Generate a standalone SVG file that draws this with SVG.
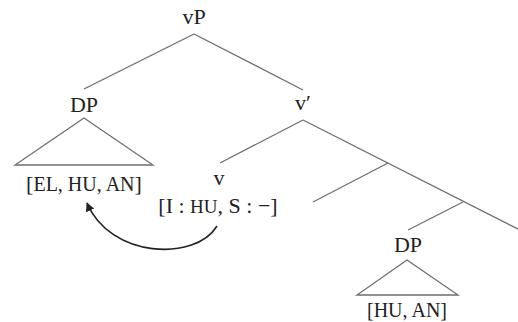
<svg xmlns="http://www.w3.org/2000/svg" width="518" height="322" viewBox="0 0 518 322">
<defs>
<style>
text{font-family:"Liberation Serif","DejaVu Serif",serif;fill:#222;text-anchor:middle}
.lab{font-size:22px}
.feat{font-size:20px}
.edge{stroke:#6e6e6e;stroke-width:1.3;fill:none}
.tri{stroke:#6e6e6e;stroke-width:1.3;fill:none}
.mv{stroke:#222;stroke-width:1.6;fill:none}
</style>
<marker id="ah" viewBox="0 0 10 10" refX="9" refY="5" markerWidth="9" markerHeight="9" markerUnits="userSpaceOnUse" orient="auto">
<path d="M0,0 L10,5 L0,10 z" fill="#222"/>
</marker>
</defs>
<rect width="518" height="322" fill="#fff"/>
<g id="connectors">
<line class="edge" x1="194" y1="34" x2="84" y2="89"/>
<line class="edge" x1="194" y1="34" x2="303" y2="90"/>
<line class="edge" x1="303" y1="120" x2="220" y2="163"/>
<line class="edge" x1="303" y1="120" x2="522" y2="231"/>
<line class="edge" x1="388" y1="163" x2="313" y2="202"/>
<line class="edge" x1="463" y1="202" x2="408" y2="230"/>
<path class="mv" d="M217 226 C195 262 110 258 87 203" marker-end="url(#ah)"/>
</g>
<g id="vP"><text class="lab" x="194" y="24">vP</text></g>
<g id="DP1">
<text class="lab" x="84" y="112">DP</text>
<polygon class="tri" points="84,118 15,165 153,165"/>
<text class="feat" x="84" y="191"><tspan font-size="22">[</tspan>EL, HU, AN<tspan font-size="22">]</tspan></text>
</g>
<g id="vbar"><text class="lab" x="303" y="110">v′</text></g>
<g id="v">
<text class="lab" x="219" y="185">v</text>
<text class="lab" x="218" y="213">[I : <tspan font-size="19">HU</tspan>, S : −]</text>
</g>
<g id="DP2">
<text class="lab" x="408" y="252">DP</text>
<polygon class="tri" points="407,260 357,295 458,295"/>
<text class="feat" x="407" y="317">[HU, AN]</text>
</g>
</svg>
